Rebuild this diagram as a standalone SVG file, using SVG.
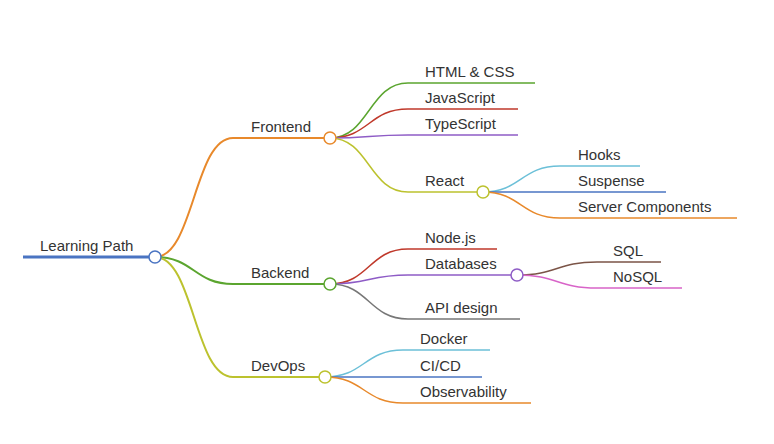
<svg xmlns="http://www.w3.org/2000/svg" width="774" height="444" viewBox="0 0 774 444">
<style>
text{font-family:"Liberation Sans",Arial,sans-serif;font-size:15px;fill:#333}
path{fill:none}
.l0{stroke-width:3}.l1{stroke-width:2}.l2{stroke-width:1.5}
circle{fill:#fff;stroke-width:1.5}
</style>
<rect width="774" height="444" fill="#fff"/>
<g id="connectors">
<path class="l1" stroke="#e8892b" d="M155,257 C194,257 194,138 233,138 H330"/>
<path class="l1" stroke="#5ba52f" d="M155,257 C194,257 194,284 233,284 H330"/>
<path class="l1" stroke="#bcc22e" d="M155,257 C194,257 194,377 233,377 H325"/>
<path class="l2" stroke="#5ba52f" d="M330,138 C369,138 369,83 408,83 H535"/>
<path class="l2" stroke="#c0392b" d="M330,138 C369,138 369,109 408,109 H518"/>
<path class="l2" stroke="#8e5cc6" d="M330,138 C369,138 369,135 408,135 H518"/>
<path class="l2" stroke="#bcc22e" d="M330,138 C369,138 369,192 408,192 H483"/>
<path class="l2" stroke="#6cc0d8" d="M483,192 C521,192 521,166 560,166 H640"/>
<path class="l2" stroke="#4a74c2" d="M483,192 H666"/>
<path class="l2" stroke="#e8892b" d="M483,192 C521,192 521,218 560,218 H737"/>
<path class="l2" stroke="#c0392b" d="M330,284 C369,284 369,249 408,249 H497"/>
<path class="l2" stroke="#8e5cc6" d="M330,284 C369,284 369,275 408,275 H517"/>
<path class="l2" stroke="#777" d="M330,284 C369,284 369,319 408,319 H520"/>
<path class="l2" stroke="#7b5447" d="M517,275 C557,275 557,262 597,262 H661"/>
<path class="l2" stroke="#d864c8" d="M517,275 C557,275 557,288 597,288 H682"/>
<path class="l2" stroke="#6cc0d8" d="M325,377 C364,377 364,350 403,350 H490"/>
<path class="l2" stroke="#4a74c2" d="M325,377 H482"/>
<path class="l2" stroke="#e8892b" d="M325,377 C364,377 364,403 403,403 H531"/>
</g>
<g id="root"><path class="l0" stroke="#4a74c2" d="M23,257 H155"/><circle cx="155" cy="257" r="6" stroke="#4a74c2"/><text x="40" y="251">Learning Path</text></g>
<g id="frontend"><circle cx="330" cy="138" r="6" stroke="#e8892b"/><text x="251" y="132">Frontend</text></g>
<g id="backend"><circle cx="330" cy="284" r="6" stroke="#5ba52f"/><text x="251" y="278">Backend</text></g>
<g id="devops"><circle cx="325" cy="377" r="6" stroke="#bcc22e"/><text x="251" y="371">DevOps</text></g>
<g id="html"><text x="425" y="77">HTML &amp; CSS</text></g>
<g id="js"><text x="425" y="103">JavaScript</text></g>
<g id="ts"><text x="425" y="129">TypeScript</text></g>
<g id="react"><circle cx="483" cy="192" r="6" stroke="#bcc22e"/><text x="425" y="186">React</text></g>
<g id="hooks"><text x="578" y="160">Hooks</text></g>
<g id="suspense"><text x="578" y="186">Suspense</text></g>
<g id="server"><text x="578" y="212">Server Components</text></g>
<g id="node"><text x="425" y="243">Node.js</text></g>
<g id="db"><circle cx="517" cy="275" r="6" stroke="#8e5cc6"/><text x="425" y="269">Databases</text></g>
<g id="api"><text x="425" y="313">API design</text></g>
<g id="sql"><text x="613" y="256">SQL</text></g>
<g id="nosql"><text x="613" y="282">NoSQL</text></g>
<g id="docker"><text x="420" y="344">Docker</text></g>
<g id="cicd"><text x="420" y="371">CI/CD</text></g>
<g id="obs"><text x="420" y="397">Observability</text></g>
</svg>
